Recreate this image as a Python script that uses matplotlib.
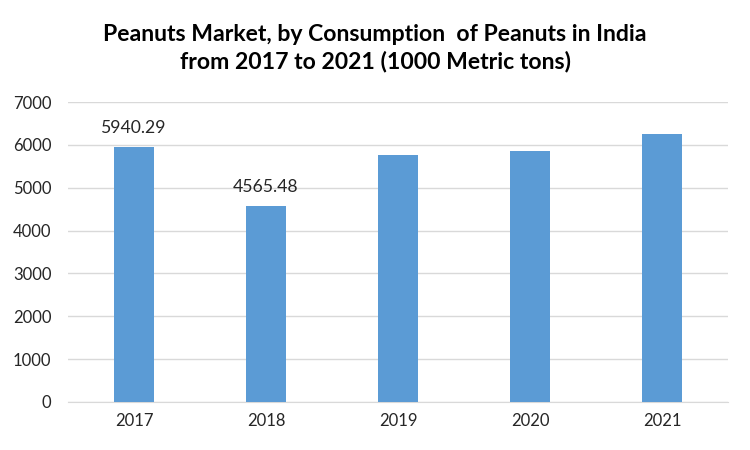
import matplotlib.pyplot as plt

years = ['2017', '2018', '2019', '2020', '2021']
consumption = [5940.29, 4565.48, 5764, 5857, 6255]
shown_labels = ['5940.29', '4565.48', '', '', '']

plt.rcParams['font.family'] = ['Lato', 'DejaVu Sans']

fig = plt.figure(figsize=(7.5, 4.5), dpi=100)
ax = fig.add_axes([0.0907, 0.1067, 0.88, 0.6666])

x = range(len(years))
bars = ax.bar(x, consumption, width=0.31, color='#5B9BD5', zorder=3)
ax.bar_label(bars, labels=shown_labels, padding=8, fontsize=12.7, color='#262626')

ax.set_xlim(-0.5, len(years) - 0.5)
ax.set_ylim(0, 7000)
ax.set_yticks(range(0, 7001, 1000))
ax.set_xticks(list(x))
ax.set_xticklabels(years)
ax.grid(axis='y', color='#D9D9D9', linewidth=1, zorder=0)
for s in ['top', 'right', 'left']:
    ax.spines[s].set_visible(False)
ax.spines['bottom'].set_color('#D9D9D9')
ax.tick_params(length=0, labelsize=12, labelcolor='#262626')
ax.tick_params(axis='y', pad=12)
ax.tick_params(axis='x', pad=8)

fig.text(0.5, 0.893, 'Peanuts Market, by Consumption  of Peanuts in India\nfrom 2017 to 2021 (1000 Metric tons)',
         ha='center', va='center', fontsize=16.6, fontweight='bold', linespacing=1.3)

plt.savefig('out.png')
